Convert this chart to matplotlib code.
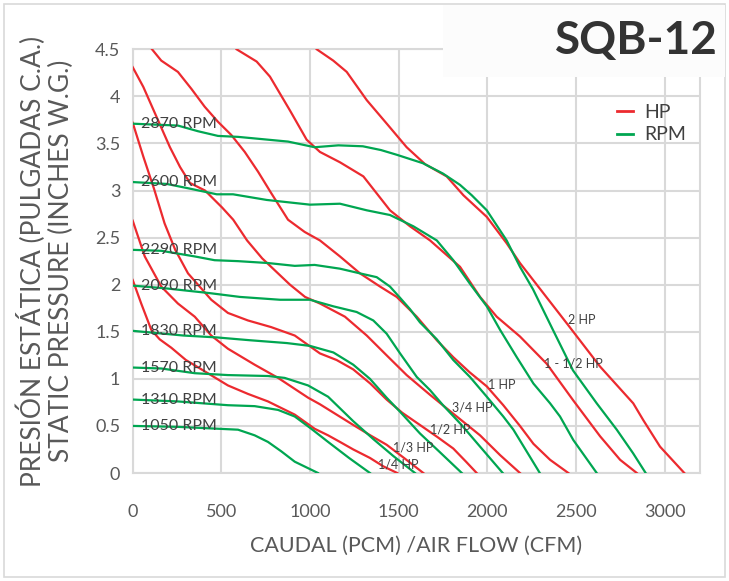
import matplotlib
matplotlib.use("Agg")
import matplotlib.pyplot as plt
from matplotlib.lines import Line2D
from matplotlib.patches import Rectangle

plt.rcParams['font.family'] = ['Lato', 'DejaVu Sans']

# --- fan curves (CFM, inches W.G.) ---
rpm_labels = ['2870 RPM', '2600 RPM', '2290 RPM', '2090 RPM',
              '1830 RPM', '1570 RPM', '1310 RPM', '1050 RPM']

rpm_2870_x = [0, 255, 368, 481, 594, 876, 1026, 1160, 1298, 1400, 1489, 1637, 1750,
              1846, 1912, 1997, 2109, 2184, 2258, 2370, 2483, 2617, 2730, 2822, 2893]
rpm_2870_y = [3.71, 3.69, 3.63, 3.58, 3.57, 3.52, 3.46, 3.48, 3.47, 3.43, 3.38, 3.29, 3.18,
              3.06, 2.95, 2.79, 2.47, 2.19, 1.95, 1.52, 1.09, 0.74, 0.46, 0.21, 0.0]

rpm_2600_x = [0, 192, 323, 474, 566, 756, 1000, 1169, 1320, 1451, 1583, 1715, 1808,
              1902, 1997, 2072, 2166, 2260, 2354, 2410, 2485, 2617]
rpm_2600_y = [3.09, 3.07, 3.02, 2.96, 2.96, 2.90, 2.85, 2.86, 2.79, 2.74, 2.62, 2.47, 2.26,
              2.01, 1.77, 1.52, 1.23, 0.95, 0.74, 0.60, 0.35, 0.0]

rpm_2290_x = [0, 161, 350, 462, 594, 763, 914, 1026, 1169, 1282, 1376, 1451, 1508, 1564,
              1620, 1715, 1808, 1902, 1997, 2090, 2147, 2241, 2296]
rpm_2290_y = [2.37, 2.36, 2.30, 2.26, 2.25, 2.23, 2.20, 2.21, 2.17, 2.12, 2.08, 1.98, 1.86, 1.74,
              1.60, 1.42, 1.20, 1.02, 0.81, 0.60, 0.46, 0.17, 0.0]

rpm_2090_x = [0, 192, 436, 605, 831, 1000, 1132, 1263, 1357, 1432, 1508, 1602, 1677,
              1750, 1850, 1950, 2087]
rpm_2090_y = [1.99, 1.96, 1.91, 1.87, 1.84, 1.84, 1.77, 1.71, 1.62, 1.48, 1.27, 1.02, 0.88,
              0.72, 0.52, 0.30, 0.0]

rpm_1830_x = [0, 286, 474, 661, 869, 1000, 1132, 1244, 1338, 1432, 1508, 1620, 1733, 1856]
rpm_1830_y = [1.51, 1.46, 1.44, 1.41, 1.38, 1.35, 1.28, 1.15, 1.00, 0.80, 0.65, 0.42, 0.22, 0.0]

rpm_1570_x = [0, 161, 350, 537, 763, 857, 989, 1102, 1244, 1357, 1470, 1592]
rpm_1570_y = [1.12, 1.11, 1.06, 1.04, 1.03, 1.01, 0.93, 0.81, 0.55, 0.36, 0.18, 0.0]

rpm_1310_x = [0, 255, 537, 688, 820, 914, 1007, 1102, 1220, 1338]
rpm_1310_y = [0.78, 0.76, 0.72, 0.71, 0.67, 0.60, 0.47, 0.33, 0.16, 0.0]

rpm_1050_x = [0, 255, 481, 594, 688, 763, 838, 914, 1045]
rpm_1050_y = [0.50, 0.49, 0.47, 0.46, 0.40, 0.33, 0.23, 0.12, 0.0]

hp_labels = ['2 HP', '1 - 1/2 HP', '1 HP', '3/4 HP', '1/2 HP', '1/3 HP', '1/4 HP']
# where each HP label sits (left edge, vertical centre)
hp_label_x = [2455, 2320, 2002, 1799, 1677, 1470, 1385]
hp_label_y = [1.62, 1.16, 0.93, 0.70, 0.46, 0.27, 0.085]

hp_2_x = [1038, 1131, 1207, 1320, 1433, 1545, 1649, 1771, 1865, 1997, 2109, 2184,
          2448, 2636, 2823, 2880, 2974, 3111]
hp_2_y = [4.5, 4.38, 4.26, 3.96, 3.71, 3.46, 3.28, 3.15, 2.95, 2.72, 2.44, 2.23,
          1.59, 1.13, 0.74, 0.56, 0.28, 0.0]

hp_15_x = [586, 699, 774, 887, 981, 1056, 1169, 1301, 1376, 1451, 1564, 1677, 1846,
           1959, 2053, 2184, 2335, 2485, 2636, 2749, 2843]
hp_15_y = [4.5, 4.37, 4.21, 3.85, 3.54, 3.41, 3.30, 3.15, 2.97, 2.79, 2.62, 2.47, 2.19,
           1.87, 1.66, 1.45, 1.16, 0.77, 0.39, 0.14, 0.0]

hp_1_x = [109, 161, 255, 331, 406, 481, 556, 632, 707, 782, 876, 970, 1056, 1169, 1282,
          1395, 1489, 1602, 1715, 1808, 1900, 1997, 2090, 2184, 2260, 2354, 2457]
hp_1_y = [4.5, 4.38, 4.26, 4.08, 3.89, 3.73, 3.59, 3.41, 3.20, 2.97, 2.69, 2.56, 2.47, 2.30, 2.12,
          1.98, 1.87, 1.66, 1.41, 1.23, 1.07, 0.92, 0.72, 0.50, 0.31, 0.14, 0.0]

hp_34_x = [0, 60, 135, 210, 267, 323, 408, 504, 567, 645, 730, 887, 972, 1056, 1197,
           1320, 1432, 1545, 1677, 1808, 1959, 2072, 2184]
hp_34_y = [4.31, 4.10, 3.78, 3.46, 3.25, 3.08, 3.00, 2.82, 2.69, 2.47, 2.28, 2.00, 1.87, 1.80, 1.66,
           1.46, 1.25, 1.04, 0.83, 0.63, 0.40, 0.19, 0.0]

hp_12_x = [0, 60, 120, 180, 240, 312, 443, 537, 650, 780, 914, 1056, 1150, 1244, 1340,
           1432, 1520, 1620, 1720, 1808, 1880, 1940]
hp_12_y = [3.72, 3.36, 3.02, 2.65, 2.37, 2.12, 1.84, 1.70, 1.62, 1.55, 1.46, 1.27, 1.20, 1.10, 0.95,
           0.78, 0.64, 0.51, 0.38, 0.26, 0.12, 0.0]

hp_13_x = [0, 68, 161, 255, 350, 443, 537, 688, 820, 989, 1056, 1150, 1244, 1340, 1432, 1530, 1639]
hp_13_y = [2.68, 2.30, 1.98, 1.80, 1.66, 1.46, 1.32, 1.15, 1.01, 0.80, 0.73, 0.62, 0.51, 0.40,
           0.30, 0.16, 0.0]

hp_14_x = [0, 48, 105, 152, 218, 300, 406, 537, 650, 763, 914, 1026, 1102, 1169, 1244,
           1338, 1414, 1492]
hp_14_y = [2.05, 1.80, 1.52, 1.42, 1.33, 1.20, 1.08, 0.93, 0.84, 0.76, 0.62, 0.47, 0.40, 0.33, 0.25,
           0.16, 0.07, 0.0]

rpm_curves = [(rpm_2870_x, rpm_2870_y), (rpm_2600_x, rpm_2600_y), (rpm_2290_x, rpm_2290_y),
              (rpm_2090_x, rpm_2090_y), (rpm_1830_x, rpm_1830_y), (rpm_1570_x, rpm_1570_y),
              (rpm_1310_x, rpm_1310_y), (rpm_1050_x, rpm_1050_y)]
hp_curves = [(hp_2_x, hp_2_y), (hp_15_x, hp_15_y), (hp_1_x, hp_1_y), (hp_34_x, hp_34_y),
             (hp_12_x, hp_12_y), (hp_13_x, hp_13_y), (hp_14_x, hp_14_y)]

RED = '#ec2a2f'
GREEN = '#00a651'
GRID = '#d9d9d9'
TEXT = '#595959'

W, H = 729, 581
fig = plt.figure(figsize=(W / 100, H / 100), dpi=100)
ax = fig.add_axes([132.7 / W, 1 - 473 / H, 567.4 / W, 423.7 / H])

for x, y in hp_curves:
    ax.plot(x, y, color=RED, lw=1.6, solid_joinstyle='round', zorder=3)
for x, y in rpm_curves:
    ax.plot(x, y, color=GREEN, lw=1.6, solid_joinstyle='round', zorder=3)

for (x, y), lab in zip(rpm_curves, rpm_labels):
    ax.text(48, y[0], lab, fontsize=11.5, color='#404040', ha='left', va='center', zorder=4)

for lab, lx, ly in zip(hp_labels, hp_label_x, hp_label_y):
    ax.text(lx, ly, lab, fontsize=9, color='#404040', ha='left', va='center', zorder=4)

ax.set_xlim(0, 3200)
ax.set_ylim(0, 4.5)
ax.set_xticks(range(0, 3001, 500))
ax.set_yticks([i * 0.5 for i in range(10)])
ax.set_yticklabels(['0', '0.5', '1', '1.5', '2', '2.5', '3', '3.5', '4', '4.5'])
ax.grid(True, color=GRID, lw=1.5, zorder=0)
ax.set_axisbelow(True)
for s in ax.spines.values():
    s.set_color(GRID)
    s.set_linewidth(1.5)
ax.tick_params(length=0, labelsize=13, colors=TEXT)
ax.tick_params(axis='x', pad=22)
ax.tick_params(axis='y', pad=9)

ax.set_xlabel('CAUDAL (PCM) /AIR FLOW (CFM)', fontsize=15.5, color=TEXT, labelpad=12)
ax.set_ylabel('PRESIÓN ESTÁTICA (PULGADAS C.A.)\nSTATIC PRESSURE (INCHES W.G.)',
              fontsize=19, color=TEXT, labelpad=15, linespacing=1.15)

handles = [Line2D([], [], color=RED, lw=2), Line2D([], [], color=GREEN, lw=2)]
ax.legend(handles, ['HP', 'RPM'], loc='upper left', bbox_to_anchor=(0.823, 0.913),
          frameon=False, fontsize=14, handlelength=0.8, handletextpad=0.6,
          labelspacing=0.3, labelcolor='#404040')

# title box in the top right corner, over the top gridline
fig.add_artist(Rectangle((443 / W, 1 - 77 / H), 282 / W, 72 / H, transform=fig.transFigure,
                         facecolor='#fcfcfc', edgecolor='none', zorder=5))
fig.text(718 / W, 1 - 41 / H, 'SQB-12', fontsize=33, fontweight='bold', color='#333333',
         ha='right', va='center', zorder=6)

# outer chart border
fig.add_artist(Rectangle((4 / W, 4 / H), 721 / W, 573 / H, transform=fig.transFigure,
                         facecolor='none', edgecolor=GRID, lw=1.2, zorder=0))

fig.savefig('out.png', dpi=100)
